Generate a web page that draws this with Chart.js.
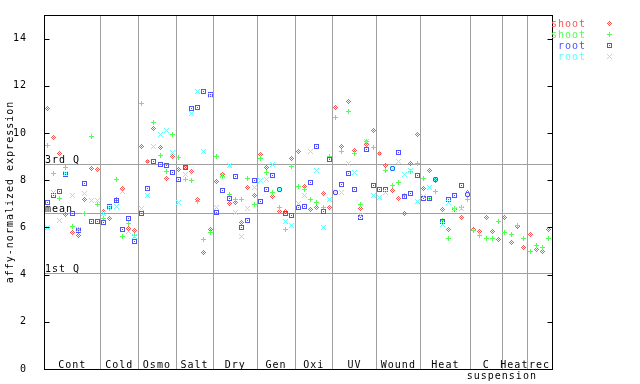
<!DOCTYPE html>
<html><head><meta charset="utf-8">
<script src="https://cdn.jsdelivr.net/npm/chart.js@4/dist/chart.umd.min.js"></script>
<style>html,body{margin:0;padding:0;background:#fff}#wrap{width:640px;height:384px}</style>
</head><body><div id="wrap"><canvas id="c" width="640" height="384"></canvas></div>
<script>
// ---------- data ----------
const groupLabels    = ['Cont','Cold','Osmo','Salt','Dry','Gen','Oxi','UV','Wound','Heat','C','Heat','rec'];
const groupSubLabels = ['','','','','','','','','','','suspension','',''];
const groupSizes     = [9,6,6,6,7,6,6,7,7,8,5,4,4];
const yTicks = [0,2,4,6,8,10,12,14];
const quartileNames  = ['3rd Q','mean','1st Q'];
const quartileValues = [8.68, 6.61, 4.08];
const seriesNames = ['shoot','shoot','root','root'];
const seriesColors = ['#ff5050','#50ff50','#5050ff','#60ffff'];

const shootRed = [
 11.04, 9.81, 9.15, 6.55, 5.77, 5.65, 7.17, 8.51, 8.46,
 6.68, 6.37, 7.20, 7.64, 5.96, 5.86,
 9.43, 8.80, 10.19, 9.40, 8.08, 9.02,
 8.46, 8.55, 8.38, 7.20, 4.92, 5.89,
 7.96, 8.25, 7.03, 7.07, 6.19, 7.71, 7.37,
 9.10, 8.55, 7.33, 6.69, 6.69, 8.93,
 9.22, 7.75, 6.74, 6.86, 7.45, 6.86,
 11.08, 9.43, 11.33, 9.27, 6.82, 9.52, 10.11,
 9.14, 8.62, 7.58, 7.24, 6.61, 8.72, 9.94,
 7.66, 8.42, 8.00, 6.74, 5.89, 6.74, 6.40, 7.49,
 5.89, 5.83, 6.40, 5.83, 5.47,
 6.44, 5.34, 6.02, 5.13,
 5.68, 5.05, 5.00, 5.93
];
const shootGreen = [
 9.48, 8.30, 7.24, 8.55, 6.03, 5.92, 6.61, 9.86, 6.99,
 6.36, 6.80, 8.01, 5.60, 6.16, 5.65,
 11.25, 8.80, 10.45, 9.05, 8.38, 9.95,
 8.97, 8.04, 8.00, 7.11, 5.47, 5.77,
 9.01, 8.17, 7.41, 7.20, 7.20, 8.08, 6.99,
 8.93, 8.34, 7.49, 6.86, 5.89, 8.59,
 7.75, 7.62, 7.20, 7.07, 6.86, 9.01,
 10.66, 9.22, 10.91, 9.14, 6.95, 9.63, 9.39,
 9.14, 8.42, 7.79, 7.92, 7.35, 8.38, 8.72,
 8.08, 7.24, 7.54, 6.28, 5.55, 6.78, 6.86, 7.20,
 5.86, 5.64, 5.55, 5.55, 6.23,
 5.77, 5.72, 6.06, 5.51,
 5.00, 5.22, 5.13, 5.55
];
const rootBlue = [
 7.07, 7.37, 7.51, 8.25, 6.61, 5.85, 7.87, 6.27, 6.23,
 6.19, 6.89, 7.13, 5.89, 6.36, 5.40,
 6.57, 7.66, 8.80, 8.67, 8.63, 8.34,
 8.04, 8.55, 11.04, 11.08, 11.75, 11.63,
 6.65, 7.58, 7.24, 8.17, 5.98, 6.31, 8.00,
 7.11, 7.62, 8.21, 7.60, 6.57, 6.52,
 6.86, 6.90, 7.92, 9.43, 6.69, 8.89,
 7.48, 7.83, 8.30, 7.62, 6.44, 9.31, 7.79,
 7.62, 7.62, 8.51, 9.18, 7.32, 7.45, 8.21,
 7.24, 7.24, 8.04, 6.24, 7.20, 7.37, 7.79, 7.41,
 null, null, null, null, null,
 null, null, null, null,
 null, null, null, null
];
const rootCyan = [
 5.98, 7.50, 6.31, 8.30, 7.35, 5.90, 7.42, 7.16, 7.16,
 6.57, 6.85, 6.87, 7.54, 5.83, 5.61,
 6.78, 7.34, 9.43, 9.95, 10.12, 9.16,
 7.07, 8.25, 10.83, 11.75, 9.22, 11.57,
 6.86, 8.20, 8.63, 6.65, 5.60, 6.78, 7.71,
 8.00, 8.04, 8.67, 7.60, 6.23, 6.06,
 7.03, 7.37, 9.22, 8.42, 5.98, 7.20,
 7.50, 7.49, 8.72, 8.34, 6.50, 9.66, 7.37,
 7.28, 7.49, 8.50, 8.80, 8.25, 8.40, 7.11,
 7.30, 7.71, 8.05, 6.14, 7.07, 6.74, 6.78, 7.41,
 null, null, null, null, null,
 null, null, null, null,
 null, null, null, null
];

// ---------- helpers ----------
const FONT = 'DejaVu Sans Mono';
const totalSamples = groupSizes.reduce((a,b)=>a+b,0);
const groupStarts = [];
groupSizes.reduce((acc,n)=>{groupStarts.push(acc); return acc+n;},0);

function makeMarker(color, pixels){
  const c = document.createElement('canvas');
  c.width = 5; c.height = 5;
  const g = c.getContext('2d');
  g.fillStyle = color;
  pixels.forEach(([x,y])=>g.fillRect(x,y,1,1));
  return c;
}
const pxDiamond = [[2,0],[1,1],[3,1],[0,2],[2,2],[4,2],[1,3],[3,3],[2,4]];
const pxPlus = [[2,0],[2,1],[0,2],[1,2],[2,2],[3,2],[4,2],[2,3],[2,4]];
const pxSquare = [[0,0],[1,0],[2,0],[3,0],[4,0],[0,1],[4,1],[0,2],[2,2],[4,2],[0,3],[4,3],[0,4],[1,4],[2,4],[3,4],[4,4]];
const pxCross = [[0,0],[4,0],[1,1],[3,1],[2,2],[1,3],[3,3],[0,4],[4,4]];
const markers = [
  makeMarker(seriesColors[0], pxDiamond),
  makeMarker(seriesColors[1], pxPlus),
  makeMarker(seriesColors[2], pxSquare),
  makeMarker(seriesColors[3], pxCross)
];
const toPoints = arr => arr.map((v,i)=> v==null ? null : {x:i+0.5, y:v}).filter(p=>p);
const seriesValues = [shootRed, shootGreen, rootBlue, rootCyan];

const framePlugin = {
  id:'frame',
  beforeDraw(chart){
    chart.ctx.letterSpacing = '1px';
    chart.ctx.imageSmoothingEnabled = false;
  },
  beforeDatasetsDraw(chart){
    const {ctx, chartArea:a, scales:{x, y}} = chart;
    ctx.save();
    ctx.letterSpacing = '1px';
    ctx.strokeStyle = '#a0a0a0';
    ctx.lineWidth = 1;
    // group separators
    groupStarts.slice(1).forEach(s=>{
      const px = Math.round(x.getPixelForValue(s)) + 0.5;
      ctx.beginPath(); ctx.moveTo(px, a.top); ctx.lineTo(px, a.bottom); ctx.stroke();
    });
    // quartile lines
    quartileValues.forEach(v=>{
      const py = Math.round(y.getPixelForValue(v)) + 0.5;
      ctx.beginPath(); ctx.moveTo(a.left, py); ctx.lineTo(a.right, py); ctx.stroke();
    });
    ctx.fillStyle = '#000';
    ctx.font = '10px "' + FONT + '"';
    ctx.textBaseline = 'alphabetic';
    ctx.textAlign = 'left';
    quartileValues.forEach((v,i)=>{
      const py = Math.round(y.getPixelForValue(v));
      ctx.fillText(quartileNames[i], a.left + 1, py - 1);
    });
    // group labels
    ctx.textAlign = 'center';
    groupLabels.forEach((lab,i)=>{
      const cx = x.getPixelForValue(groupStarts[i] + groupSizes[i]/2);
      ctx.fillText(lab, cx, a.bottom - 1.5);
      if (groupSubLabels[i]) {
        const sx = x.getPixelForValue(groupStarts[i] + groupSizes[i]);
        ctx.fillText(groupSubLabels[i], sx, a.bottom + 9.5);
      }
    });
    ctx.restore();
  },
  afterDatasetsDraw(chart){
    const {ctx, chartArea:a, scales:{y}} = chart;
    ctx.save();
    ctx.strokeStyle = '#000';
    ctx.lineWidth = 1;
    const L = Math.round(a.left) + 0.5, R = Math.round(a.right) + 0.5;
    const T = Math.round(a.top) + 0.5, B = Math.round(a.bottom) + 0.5;
    ctx.strokeRect(L, T, R - L, B - T);
    yTicks.forEach(v=>{
      const py = Math.round(y.getPixelForValue(v)) + 0.5;
      ctx.beginPath();
      ctx.moveTo(L, py); ctx.lineTo(L + 5, py);
      ctx.moveTo(R, py); ctx.lineTo(R - 5, py);
      ctx.stroke();
    });
    // legend
    ctx.letterSpacing = '1px';
    ctx.font = '10px "' + FONT + '"';
    ctx.textAlign = 'right';
    ctx.textBaseline = 'alphabetic';
    ctx.imageSmoothingEnabled = false;
    seriesNames.forEach((n,i)=>{
      const ry = 23 + i*11;
      ctx.fillStyle = seriesColors[i];
      ctx.fillText(n, 586, ry + 4);
      ctx.drawImage(markers[i], 607, ry - 2);
    });
    ctx.restore();
  }
};

new Chart(document.getElementById('c'), {
  type:'scatter',
  data:{
    datasets: seriesValues.map((vals,i)=>({
      label: seriesNames[i],
      data: toPoints(vals),
      pointStyle: markers[i],
      pointRadius: 3,
      pointHoverRadius: 3,
      borderColor: seriesColors[i],
      backgroundColor: seriesColors[i],
      order: 4 - i
    }))
  },
  options:{
    responsive:false,
    animation:false,
    devicePixelRatio:1,
    events:[],
    layout:{padding:{left:0, right:88, top:13, bottom:15}},
    plugins:{legend:{display:false}, tooltip:{enabled:false}},
    scales:{
      x:{type:'linear', min:0, max:totalSamples, display:false},
      y:{
        type:'linear', min:0, max:15,
        afterBuildTicks: s => { s.ticks = yTicks.map(v=>({value:v})); },
        afterFit: s => { s.width = 44; },
        grid:{display:false},
        border:{display:false},
        ticks:{color:'#000', padding:9, font:{family:FONT, size:10}},
        title:{display:true, text:'affy-normalized expression', color:'#000',
               font:{family:FONT, size:10}, padding:{top:4, bottom:4}}
      }
    }
  },
  plugins:[framePlugin]
});
</script>
</body></html>
